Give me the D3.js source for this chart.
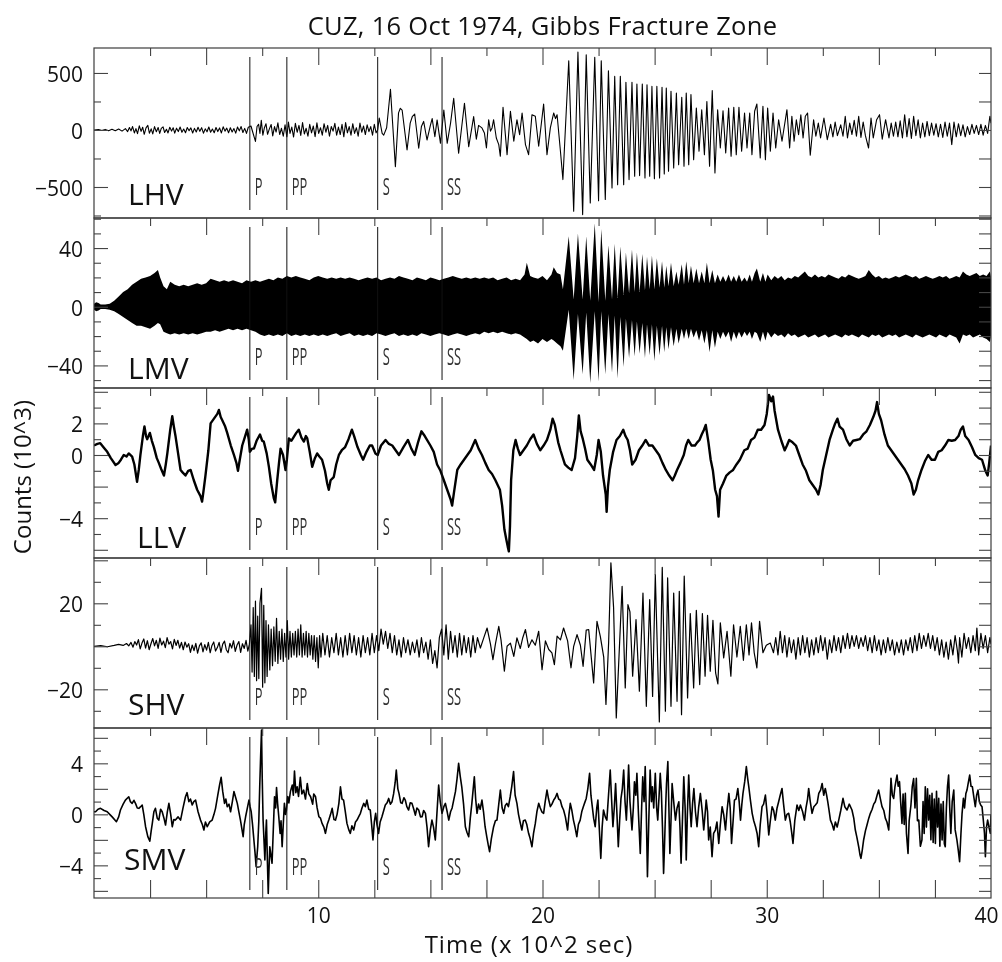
<!DOCTYPE html>
<html lang="en">
<head>
<meta charset="utf-8">
<title>CUZ, 16 Oct 1974, Gibbs Fracture Zone</title>
<script src="https://d3js.org/d3.v7.min.js"></script>
<style>
  body { margin: 0; background: #fff; }
  svg { will-change: transform; }
  text { font-family: "Open Sans", "DejaVu Sans", sans-serif; fill: #111; }
</style>
</head>
<body>
<script>

// ---- data (time in 10^2 s, amplitude in axis units) ----

var chartTitle = "CUZ, 16 Oct 1974, Gibbs Fracture Zone";
var stationNames = ["LHV", "LMV", "LLV", "SHV", "SMV"];
var phaseNames = ["P", "PP", "S", "SS"];
var phaseTimes = [6.95, 8.6, 12.65, 15.52];
var timeDomain = [0, 40];
var timeLabels = [10, 20, 30, 40];

var yDomains = [[-772, 719], [-55.4, 60.5], [-6.52, 4.24], [-38, 41.07], [-6.56, 6.77]];
var yLabels = [[-500, 0, 500], [-40, 0, 40], [-4, 0, 2], [-20, 20], [-4, 0, 4]];
var yMinorStep = [250, 10, 1, 10, 1];
var yMajorStep = [500, 40, 2, 20, 2];

// LHV [t, counts]
var lhv = [[0,0],[0.2,4],[0.35,-4],[0.5,5],[0.65,-6],[0.8,6],[0.95,-7],[1.1,8],[1.25,-10],[1.4,12],
[1.5,-14],[1.58,22],[1.65,-8],[1.72,30],[1.8,-26],[1.87,12],[1.94,-32],[2.02,36],[2.1,-12],[2.17,24],[2.24,-38],[2.32,18],[2.4,40],[2.47,-28],[2.55,10],[2.62,-34],[2.7,30],[2.78,-16],[2.86,22],[2.93,-30],[3.0,14],[3.08,28],[3.15,-22],[3.23,6],[3.3,-26],[3.38,24],[3.46,-10],[3.53,20],[3.6,-28],[3.68,16],[3.76,-14],[3.84,26],[3.92,-20],[4.0,8],[4.08,-24],[4.16,22],[4.24,-6],[4.32,18],[4.4,-26],[4.48,14],[4.56,-18],[4.64,24],[4.72,-12],[4.8,20],[4.88,-28],[4.96,10],[5.04,-16],[5.12,26],[5.2,-20],[5.28,8],[5.36,-24],[5.44,22],[5.52,-14],[5.6,18],[5.68,-26],[5.76,28],[5.84,-10],[5.92,16],[6.0,-24],[6.08,20],[6.16,-18],[6.24,12],[6.32,-28],[6.4,26],[6.48,-8],[6.56,30],[6.64,-22],[6.72,14],[6.8,-30],[6.88,24],
[7.0,35],[7.08,-20],[7.14,-60],[7.2,-100],[7.27,30],[7.34,50],[7.4,-30],[7.46,85],[7.53,-45],[7.6,20],[7.67,55],[7.74,-38],[7.82,10],[7.9,48],[7.97,-52],[8.05,30],[8.12,-18],[8.2,62],[8.28,-40],[8.36,15],[8.44,-55],[8.52,45],[8.6,-60],[8.67,70],[8.74,-30],[8.82,25],[8.9,-62],[8.98,58],[9.06,-20],[9.14,40],[9.22,-48],[9.3,65],[9.38,-35],[9.46,15],[9.54,-55],[9.62,50],[9.7,-25],[9.78,35],[9.86,-58],[9.94,62],[10.02,-30],[10.1,20],[10.18,-45],[10.26,55],[10.34,-20],[10.42,40],[10.5,-55],[10.58,30],[10.66,-10],[10.74,58],[10.82,-45],[10.9,25],[10.98,-40],[11.06,50],[11.14,-60],[11.22,65],[11.3,-25],[11.38,30],[11.46,-45],[11.54,55],[11.62,-30],[11.7,20],[11.78,-55],[11.86,60],[11.94,-20],[12.02,35],[12.1,-40],[12.18,45],[12.26,-15],[12.34,30],[12.42,-45],[12.5,50],[12.58,-25],
[12.65,0],[12.72,105],[12.85,-30],[12.92,-45],[13.05,20],[13.22,357],[13.44,-322],[13.58,150],[13.66,190],[13.74,175],[13.96,-175],[14.1,60],[14.2,120],[14.3,140],[14.48,-160],[14.6,30],[14.7,75],[14.85,-88],[15.0,40],[15.08,100],[15.2,-58],[15.3,88],[15.45,-117],[15.6,175],[15.75,-117],[15.9,60],[16.04,278],[16.26,-204],[16.52,234],[16.71,-146],[16.93,117],[17.05,-80],[17.15,40],
[17.3,18],[17.41,-26],[17.5,-158],[17.6,90],[17.68,-10],[17.75,18],[17.82,90],[17.94,-70],[18.05,-128],[18.12,-231],[18.24,199],[18.42,-216],[18.57,164],[18.72,-99],[18.86,90],[18.98,-41],[19.09,149],[19.24,-128],[19.38,-216],[19.53,134],[19.68,120],[19.83,-143],[20.05,228],[20.2,-216],[20.35,18],[20.5,149],[20.58,100],[20.65,134],[20.8,-187],[20.91,-435],
[21.17,607],[21.39,-712],[21.58,683],[21.79,-742],[21.95,660],[22.13,-640],[22.33,637],[22.5,-620],[22.62,607],[22.8,-610],[22.94,520],[23.1,-508],[23.22,470],[23.35,-480],[23.47,470],[23.62,-480],[23.72,418],[23.86,-435],[23.99,418],[24.11,-406],[24.21,403],[24.33,-400],[24.45,403],[24.57,-420],[24.66,397],[24.78,-406],[24.88,382],[24.99,-427],[25.1,382],[25.22,-420],[25.33,374],[25.43,-385],[25.52,368],[25.62,-362],[25.73,339],[25.85,-333],[25.97,324],[26.07,-304],[26.21,286],[26.31,-318],[26.41,324],[26.52,-304],[26.62,310],[26.74,-260],[26.86,193],[26.98,-187],[27.1,178],[27.22,-216],[27.33,250],[27.45,-318],[27.57,345],[27.69,-377],[27.81,178],[27.93,-158],[28.05,169],[28.17,-201],[28.3,193],[28.41,-230],[28.53,199],[28.64,-216],[28.76,199],[28.88,-187],[29.01,149],[29.12,-158],[29.24,149],[29.34,-216],[29.46,164],[29.56,228],[29.71,-245],[29.83,207],[29.94,-260],[30.04,193],[30.16,-187],[30.28,149],[30.4,-158],[30.53,90],[30.68,-99],[30.9,178],[31.02,-158],
[31.12,120],[31.22,-99],[31.32,90],[31.42,-41],[31.52,134],[31.62,-70],[31.72,120],[31.82,149],[31.94,-222],[32.09,90],[32.19,-55],[32.3,60],[32.4,-70],[32.55,105],[32.7,-85],[32.85,50],[32.95,-60],[33.05,70],[33.15,-50],[33.3,45],[33.4,-55],[33.5,120],[33.6,-70],[33.7,60],[33.8,-40],[33.9,85],[34.0,-55],[34.1,120],[34.2,-65],[34.3,70],[34.4,-50],[34.54,-158],[34.65,105],[34.75,-70],[34.9,90],[35.03,134],[35.15,-80],[35.3,90],[35.45,-70],[35.55,60],[35.65,-55],[35.75,70],[35.85,-60],[35.95,80],[36.05,-70],[36.15,134],[36.25,-60],[36.35,100],[36.45,-75],[36.55,120],[36.65,-50],[36.75,90],[36.85,-70],[36.95,60],[37.05,-60],[37.15,75],[37.25,-50],[37.35,60],[37.45,-45],[37.55,55],[37.65,-60],[37.75,50],[37.85,-65],[37.95,70],[38.05,-55],[38.15,60],[38.25,-128],[38.35,70],[38.45,-60],[38.55,55],[38.65,-50],[38.75,45],[38.85,-60],[38.95,30],[39.05,-40],[39.15,50],[39.25,-30],[39.35,40],[39.45,-40],[39.55,50],[39.65,-45],[39.75,40],[39.85,-30],[39.95,120],[40,60]];

// LMV [t, low edge, high edge] of the dense trace band
var lmv = [[0,-2,2],[0.1,-3,3],[0.2,-2.5,2.5],[0.3,-1.5,1.5],[0.5,-1.5,1.5],[0.7,-2,2],
[0.9,-3,4],[1.1,-5,7],[1.3,-7,10],[1.5,-9,12],[1.7,-11,15],[1.9,-13,17],[2.1,-13,19],[2.3,-14,20],[2.5,-15,21],[2.7,-13,23],[2.85,-11,25],[2.95,-12,20],[3.1,-17,14],[3.25,-18,12],[3.4,-19,17],[3.6,-18,15],[3.8,-19,14],[4.0,-18,15],[4.2,-19,14],[4.4,-18,15],[4.6,-19,16],[4.8,-18,15],[5.0,-17,16],[5.2,-17,19],[5.4,-16,18],[5.6,-17,17],[5.8,-16,18],[6.0,-15,17],[6.2,-16,18],[6.4,-15,17],[6.6,-16,16],[6.8,-15,18],[7.0,-16,17],[7.2,-17,18],[7.4,-19,17],[7.6,-20,18],[7.8,-19,19],[8.0,-20,18],[8.2,-19,20],[8.4,-20,19],[8.6,-18,21],[8.8,-20,20],[9.0,-19,21],[9.2,-20,20],[9.4,-19,19],[9.6,-20,18],[9.8,-19,20],[10.0,-20,21],[10.2,-19,20],[10.4,-20,19],[10.6,-19,20],[10.8,-18,19],[11.0,-20,20],[11.2,-19,19],[11.4,-18,20],[11.6,-20,19],[11.8,-19,18],[12.0,-20,19],[12.2,-19,20],[12.4,-20,19],[12.6,-18,20],[12.8,-19,18],[13.0,-20,19],[13.2,-19,20],[13.4,-18,19],[13.6,-20,21],[13.8,-19,20],[14.0,-20,19],[14.2,-19,18],[14.4,-20,20],[14.6,-18,19],[14.8,-19,18],[15.0,-20,20],[15.2,-19,19],[15.4,-18,18],[15.6,-19,19],[15.8,-20,20],[16.0,-19,21],[16.2,-18,20],[16.4,-19,19],[16.6,-20,20],[16.8,-19,19],[17.0,-18,20],[17.2,-19,19],[17.4,-17,20],[17.6,-18,19],[17.8,-17,20],[18.0,-18,18],[18.2,-17,19],[18.4,-18,20],[18.6,-19,18],[18.8,-18,19],[19.0,-19,18],[19.2,-21,22],[19.3,-22,30],[19.45,-24,21],[19.6,-23,20],[19.8,-25,19],[20.0,-22,21],[20.2,-24,18],[20.4,-22,22],[20.5,-23,27],[20.65,-25,23],[20.8,-27,22],
[20.91,-30,12],[21.17,-2,48],[21.39,-50,5],[21.58,-5,50],[21.79,-46,5],[21.95,-4,48],[22.13,-52,4],[22.33,-3,57],[22.5,-51,3],[22.62,-3,53],[22.8,-46,4],[22.94,-5,42],[23.1,-45,5],[23.22,-6,43],[23.35,-49,6],[23.47,-7,41],[23.62,-41,8],[23.72,-8,37],[23.86,-35,9],[23.99,-9,39],[24.11,-34,10],[24.21,-10,37],[24.33,-32,10],[24.45,-11,36],[24.57,-35,11],[24.66,-12,34],[24.78,-33,12],[24.88,-12,35],[24.99,-37,12],[25.1,-13,33],[25.22,-33,13],[25.33,-13,31],[25.43,-31,13],[25.52,-14,28],[25.62,-29,14],[25.73,-14,30],[25.85,-27,14],[25.97,-15,24],[26.07,-25,15],[26.21,-15,29],[26.31,-22,15],[26.41,-15,31],[26.52,-22,16],[26.62,-15,28],[26.74,-21,16],[26.86,-16,26],[26.98,-23,16],[27.1,-16,24],[27.22,-25,16],[27.33,-16,30],[27.45,-31,16],[27.57,-16,25],[27.69,-28,16],
[27.81,-17,22],[27.93,-22,17],[28.05,-17,21],[28.17,-21,17],[28.3,-17,22],[28.41,-24,17],[28.53,-17,21],[28.64,-22,17],[28.76,-17,22],[28.88,-21,17],[29.01,-17,20],[29.12,-20,17],[29.24,-17,22],[29.34,-22,17],[29.46,-17,23],[29.56,-18,26],[29.71,-24,17],[29.83,-17,23],[29.94,-23,17],[30.04,-17,22],[30.2,-21,18],[30.35,-18,21],[30.5,-20,19],[30.65,-19,21],[30.8,-21,18],[30.95,-18,20],[31.1,-20,19],[31.25,-19,21],[31.4,-21,20],[31.55,-20,22],[31.7,-19,24],[31.85,-21,21],[32.0,-20,20],[32.15,-19,22],[32.3,-21,20],[32.45,-20,21],[32.6,-19,20],[32.75,-21,22],[32.9,-20,21],[33.05,-19,20],[33.2,-20,19],[33.35,-21,21],[33.5,-19,20],[33.65,-20,22],[33.8,-19,21],[33.95,-20,20],[34.1,-21,19],[34.25,-19,20],[34.4,-20,21],[34.55,-21,25],[34.7,-19,22],[34.85,-20,20],[35.0,-19,21],[35.15,-21,19],[35.3,-20,20],[35.45,-19,19],[35.6,-20,20],[35.75,-19,21],[35.9,-21,20],[36.05,-20,21],[36.2,-19,22],[36.35,-20,21],[36.5,-21,20],[36.65,-19,21],[36.8,-20,19],[36.95,-21,20],[37.1,-20,21],[37.25,-19,20],[37.4,-20,19],[37.55,-21,20],[37.7,-19,21],[37.85,-20,20],[38.0,-21,21],[38.15,-19,19],[38.3,-20,20],[38.45,-21,21],[38.6,-25,20],[38.75,-19,24],[38.9,-20,22],[39.05,-19,21],[39.2,-21,22],[39.35,-20,23],[39.5,-19,21],[39.65,-21,22],[39.8,-22,21],[39.95,-24,24],[40,-20,20]];

// LLV [t, counts x10^3]
var llv = [[0,0.6],[0.15,0.7],[0.28,0.75],[0.45,0.45],[0.59,0.2],[0.75,-0.2],[0.96,-0.63],[1.1,-0.5],[1.2,-0.3],[1.33,0],[1.45,-0.1],[1.55,0.1],[1.7,-0.1],[1.8,-0.6],[1.92,-1.7],[2.0,-0.9],[2.07,0],[2.18,1.2],[2.25,1.8],[2.32,1.2],[2.37,1.0],[2.49,1.4],[2.58,0.9],[2.67,0.5],[2.8,-0.2],[2.89,-0.5],[3.0,-0.9],[3.12,-1.3],[3.2,-0.6],[3.27,0.1],[3.4,1.6],[3.49,2.45],[3.56,1.8],[3.64,1.15],[3.75,0.1],[3.86,-0.95],[3.95,-1.1],[4.08,-1.3],[4.2,-1.0],[4.31,-0.95],[4.45,-1.6],[4.6,-2.2],[4.75,-2.6],[4.82,-2.95],[4.9,-2.1],[4.97,-1.3],[5.1,0.3],[5.2,2.0],[5.35,2.3],[5.5,2.6],[5.57,2.85],[5.65,2.4],[5.72,2.2],[5.85,1.8],[5.94,1.4],[6.1,0.6],[6.24,0],[6.35,-0.5],[6.42,-1.0],[6.5,-0.3],[6.61,0.6],[6.72,1.1],[6.83,1.6],[6.9,1.0],[6.95,0.2],[7.05,0.4],[7.13,0.4],[7.25,0.9],[7.4,1.3],[7.5,0.9],[7.57,0.85],[7.7,0.1],[7.8,-0.75],[7.9,-1.8],[8.02,-2.75],[8.08,-3.0],[8.17,-1.6],[8.25,-0.5],[8.32,0.4],[8.43,0],[8.54,-0.95],[8.6,-0.3],[8.69,1.05],[8.8,0.9],[8.91,1.15],[9.02,1.4],[9.13,1.6],[9.25,1.1],[9.36,0.85],[9.45,1.2],[9.51,1.05],[9.62,0.2],[9.73,-0.75],[9.85,-0.2],[9.95,0.1],[10.05,-0.1],[10.17,-0.3],[10.3,-1.0],[10.4,-1.8],[10.47,-2.2],[10.55,-1.6],[10.69,-1.4],[10.8,-0.6],[10.92,0],[11.05,0.3],[11.2,0.5],[11.35,1.0],[11.5,1.6],[11.6,1.2],[11.75,0.5],[11.9,0],[12.0,-0.3],[12.15,0.2],[12.3,0.6],[12.4,0.6],[12.55,0.1],[12.65,0],[12.8,0.6],[13.0,0.95],[13.15,0.7],[13.3,0.6],[13.45,0.3],[13.6,0],[13.8,0.5],[14.0,0.95],[14.15,0.4],[14.3,0],[14.45,0.8],[14.6,1.5],[14.75,1.2],[15.0,0.6],[15.15,0.2],[15.3,-0.6],[15.45,-1.0],[15.6,-1.6],[15.75,-2.2],[15.9,-2.8],[15.97,-3.2],[16.05,-2.4],[16.2,-0.95],[16.35,-0.6],[16.5,-0.3],[16.65,0],[16.8,0.3],[17.0,0.95],[17.15,0.4],[17.3,0],[17.45,-0.5],[17.6,-0.95],[17.75,-1.2],[17.9,-1.6],[18.1,-2.2],[18.2,-3.2],[18.3,-4.7],[18.38,-5.3],[18.45,-5.8],[18.5,-6.1],[18.55,-4.5],[18.6,-1.6],[18.7,0.3],[18.8,0.95],[18.9,0.4],[19.0,0],[19.15,0.3],[19.3,0.6],[19.45,1.0],[19.6,1.3],[19.75,0.7],[19.9,0.3],[20.05,0.6],[20.2,0.95],[20.35,1.6],[20.45,2.3],[20.55,1.9],[20.7,0.8],[20.8,0.3],[21.0,-0.6],[21.15,-0.8],[21.3,-0.95],[21.45,-0.2],[21.55,1.2],[21.62,2.5],[21.7,1.5],[21.8,1.0],[21.9,0.4],[22.0,-0.3],[22.15,-0.6],[22.3,-0.95],[22.42,0],[22.5,0.95],[22.6,0.2],[22.7,-1.3],[22.82,-2.5],[22.86,-3.6],[22.92,-2.0],[23.0,-0.95],[23.15,0.2],[23.3,0.95],[23.45,1.2],[23.6,1.6],[23.7,1.2],[23.8,0.95],[23.9,0.3],[24.0,-0.6],[24.15,-0.3],[24.3,0.3],[24.45,0.6],[24.6,0.95],[24.75,0.6],[24.9,0.6],[25.05,0.3],[25.2,0],[25.35,-0.5],[25.5,-0.95],[25.65,-1.3],[25.8,-1.6],[25.9,-1.3],[26.0,-0.95],[26.15,-0.5],[26.3,0],[26.4,0.6],[26.5,0.95],[26.65,0.6],[26.8,0.6],[26.9,0.8],[27.0,0.95],[27.1,1.3],[27.2,1.6],[27.28,1.9],[27.4,0.8],[27.5,-0.3],[27.6,-1.0],[27.7,-2.2],[27.78,-2.6],[27.85,-3.9],[27.92,-2.2],[28.05,-1.8],[28.2,-1.3],[28.35,-1.1],[28.5,-0.95],[28.65,-0.6],[28.8,-0.3],[29.0,0.3],[29.15,0.4],[29.3,0.95],[29.45,1.1],[29.6,1.6],[29.75,1.6],[29.9,1.9],[30.0,2.6],[30.1,3.8],[30.2,3.4],[30.28,3.7],[30.35,2.8],[30.5,1.6],[30.65,0.9],[30.8,0.3],[30.9,0.6],[31.0,0.95],[31.15,0.8],[31.3,0.6],[31.45,0],[31.6,-0.6],[31.75,-1.0],[31.9,-1.6],[32.05,-1.9],[32.2,-2.2],[32.3,-2.5],[32.4,-1.9],[32.5,-0.95],[32.65,0],[32.8,0.95],[32.95,1.6],[33.05,2.0],[33.15,2.3],[33.25,1.8],[33.4,1.6],[33.55,1.0],[33.7,0.6],[33.85,0.9],[34.0,0.95],[34.15,1.0],[34.3,1.3],[34.45,1.5],[34.6,1.9],[34.75,2.4],[34.85,2.8],[34.92,3.35],[35.0,2.6],[35.1,2.2],[35.25,1.3],[35.4,0.6],[35.55,0.3],[35.7,0],[35.85,-0.3],[36.0,-0.6],[36.15,-0.9],[36.3,-1.3],[36.45,-1.8],[36.55,-2.5],[36.65,-2.2],[36.75,-1.6],[36.9,-0.95],[37.05,-0.4],[37.2,0],[37.35,-0.3],[37.5,-0.3],[37.65,0.2],[37.8,0.3],[37.95,0.6],[38.1,0.95],[38.25,0.9],[38.4,0.95],[38.55,1.2],[38.65,1.6],[38.75,1.8],[38.85,1.2],[39.0,0.95],[39.15,0.5],[39.3,0],[39.45,-0.2],[39.6,-0.3],[39.75,-1.0],[39.85,-1.3],[39.92,-0.5],[40,0.6]];

// SHV [t, counts]
var shv = [[0,0],[0.3,0.3],[0.6,-0.2],[0.9,0.4],[1.1,0.9],[1.3,0.4],[1.45,1.3],[1.55,0.2],[1.65,1.8],[1.74,-0.4],[1.82,2.2],[1.9,0.6],[1.98,3.1],[2.06,-1.2],[2.14,1.5],[2.22,3.4],[2.3,-0.8],[2.38,2.6],[2.46,-1.6],[2.54,1.2],[2.62,3.6],[2.7,0.2],[2.78,2.8],[2.86,-1.0],[2.94,3.8],[3.02,0.6],[3.1,2.4],[3.18,-0.6],[3.26,4.0],[3.34,1.0],[3.42,2.2],[3.5,-1.2],[3.58,3.2],[3.66,0.4],[3.74,2.8],[3.82,-0.8],[3.9,1.8],[3.98,-1.6],[4.06,2.0],[4.14,-0.4],[4.22,1.2],[4.3,-2.8],[4.38,0.6],[4.46,-2.0],[4.54,1.4],[4.62,-3.2],[4.7,0.2],[4.78,1.6],[4.86,-2.6],[4.94,0.8],[5.02,-1.8],[5.1,1.8],[5.18,-3.0],[5.26,0.4],[5.34,2.0],[5.42,-2.2],[5.5,-0.6],[5.58,1.8],[5.66,-2.8],[5.74,1.0],[5.82,2.4],[5.9,-1.6],[5.98,-3.0],[6.06,1.4],[6.14,-0.8],[6.22,2.6],[6.3,-2.4],[6.38,0.6],[6.46,2.2],[6.54,-2.8],[6.62,1.2],[6.7,-1.0],[6.78,2.8],[6.86,-2.2],[6.93,1.0],
[7.0,10],[7.05,-12],[7.1,18],[7.15,-14],[7.2,21],[7.25,-16],[7.3,14],[7.35,-15],[7.4,20],[7.47,27],[7.52,-19],[7.57,19],[7.62,-17],[7.67,12],[7.72,-14],[7.78,10],[7.84,-11],[7.9,8],[7.96,-9],[8.02,9],[8.08,-7],[8.14,13],[8.2,-8],[8.26,7],[8.32,-6],[8.38,8],[8.44,-7],[8.5,6],[8.56,-5],[8.62,12],[8.68,-6],[8.74,7],[8.8,-5],[8.86,6],[8.92,-4],[8.98,7],[9.04,-5],[9.1,8],[9.16,-4],[9.22,10],[9.28,-5],[9.34,6],[9.4,-4],[9.46,7],[9.52,-5],[9.58,6],[9.64,-4],[9.7,5],[9.76,-6],[9.82,5],[9.88,-7],[9.94,4],[10.0,-10],[10.06,5],[10.12,-5],[10.2,6],[10.3,-4],[10.4,5],[10.5,-5],[10.6,4],[10.7,-3],[10.8,6],[10.9,-4],[11.0,4],
[11.1,-5],[11.2,5],[11.3,-4],[11.4,6],[11.5,-3],[11.6,5],[11.7,-4],[11.8,4],[11.9,-5],[12.0,5],[12.1,-3],[12.2,4],[12.3,-4],[12.4,6],[12.5,-3],[12.6,5],[12.7,-2],[12.8,8],[12.9,1],[13.0,7],[13.1,-1],[13.2,6],[13.3,-3],[13.4,5],[13.5,-4],[13.6,3],[13.7,-5],[13.8,4],[13.9,-3],[14.0,3],[14.1,-4],[14.2,2],[14.3,-3],[14.4,3],[14.5,-5],[14.6,4],[14.7,-3],[14.8,2],[14.9,-6],[15.0,3],[15.1,-8],[15.2,-2],[15.3,-10],[15.4,4],[15.5,8],[15.6,-4],[15.7,10],[15.8,-6],[15.9,7],[16.0,-3],[16.1,5],[16.2,-5],[16.3,6],[16.4,-4],[16.5,5],[16.6,-3],[16.7,4],[16.8,-5],[16.9,5],[17.0,-3],[17.1,4],
[17.23,-0.8],[17.38,3.9],[17.53,8.5],[17.68,1],[17.79,-6.2],[17.9,1],[18.05,9.3],[18.15,3],[18.3,-11.6],[18.42,0],[18.57,1.5],[18.72,-4.7],[18.86,3.9],[19.01,-1],[19.12,4],[19.24,7.8],[19.38,-0.5],[19.53,3],[19.68,0.5],[19.83,7],[19.98,-10.9],[20.13,2.5],[20.28,-1.5],[20.42,-3.1],[20.53,-8.5],[20.65,4.7],[20.8,3],[20.94,8.5],[21.12,2.5],[21.27,-10],[21.39,0],[21.54,5.4],[21.69,0.5],[21.81,-9.3],[21.95,7.5],[22.06,7.8],[22.28,-17],[22.43,11.6],[22.58,4.5],[22.73,-5],[22.83,-27],[22.95,2],[23.05,38.8],[23.17,18],[23.29,-33.3],[23.44,2],[23.55,27.9],[23.69,-19.4],[23.81,19.4],[23.9,16],[24.02,-13.9],[24.17,12.4],[24.32,-20.9],[24.48,24.8],[24.63,-27.9],[24.78,21.7],[24.91,-23.3],[25.03,33.3],[25.21,-35.2],[25.34,36.7],[25.48,-30.2],[25.58,31.8],[25.73,-27.9],[25.85,24.8],[26.0,-25.6],[26.1,25.6],[26.2,-31.8],[26.32,32.6],[26.47,-24],[26.59,15.2],[26.74,-19.4],[26.86,16.7],[27.01,-17.8],[27.13,15.2],[27.25,-13.9],[27.36,14.4],[27.48,-11.6],[27.6,12.1],[27.72,-12.4],[27.82,-17.5],[27.93,10.9],[28.08,-5.4],[28.23,7],[28.4,-13.9],[28.52,10],[28.67,-5],[28.82,9.3],[28.96,-6.5],[29.09,10],[29.21,-4],[29.32,10.9],[29.44,-3],[29.56,-10],[29.68,11.6],[29.83,-3],[29.98,0.5],[30.16,1.5],
[30.3,-3],[30.4,4],[30.5,-4],[30.6,7],[30.7,-3],[30.8,5],[30.9,-5],[31.0,4],[31.1,-3],[31.2,3],[31.3,-6],[31.4,4],[31.5,-4],[31.6,5],[31.7,-3],[31.8,4],[31.9,-5],[32.0,3],[32.1,-4],[32.2,4],[32.3,-3],[32.4,5],[32.5,-2],[32.6,4],[32.7,-6],[32.8,3],[32.9,-3],[33.0,5],[33.1,-2],[33.2,4],[33.3,-3],[33.4,5],[33.5,-1],[33.6,6],[33.7,-1],[33.8,5],[33.9,0],[34.0,5],[34.1,-1],[34.2,4],[34.3,0],[34.4,5],[34.5,-2],[34.6,4],[34.7,-3],[34.8,5],[34.9,-2],[35.0,3],[35.1,-4],[35.2,3],[35.3,-3],[35.4,4],[35.5,-2],[35.6,3],[35.7,-4],[35.8,2],[35.9,-3],[36.0,3],[36.1,-4],[36.2,3],[36.3,-2],[36.4,4],[36.5,-3],[36.6,5],[36.7,-2],[36.8,6],[36.9,-1],[37.0,5],[37.1,0],[37.2,6],[37.3,-1],[37.4,5],[37.5,-2],[37.6,4],[37.7,-4],[37.8,3],[37.9,-5],[38.0,2],[38.1,-6],[38.2,3],[38.3,-4],[38.4,5],[38.5,-2],[38.55,-7.8],[38.6,4],[38.7,-5],[38.8,6],[38.9,-1],[39.0,4],[39.1,-3],[39.2,5],[39.3,-2],[39.37,8.5],[39.45,-4],[39.55,6],[39.65,-1],[39.75,5],[39.85,-3],[39.95,4],[40,1]];

// SMV [t, counts x10^3]
var smv = [[0,0.2],[0.07,0.2],[0.18,0.4],[0.29,0.47],[0.45,0.3],[0.59,0.2],[0.7,0],[0.81,-0.2],[1.0,-0.58],[1.1,-0.2],[1.18,0.34],[1.3,0.8],[1.4,1.12],[1.55,1.38],[1.62,1.0],[1.7,0.86],[1.78,1.1],[1.85,0.86],[1.93,0.5],[2.0,0.47],[2.08,0.6],[2.15,0.73],[2.22,0],[2.3,-0.97],[2.4,-1.75],[2.49,-2.1],[2.55,-1.3],[2.6,-0.71],[2.67,0.2],[2.74,0.47],[2.82,-0.3],[2.89,-0.45],[2.97,0.4],[3.04,0.2],[3.12,-0.3],[3.19,-0.84],[3.27,0.2],[3.34,0.86],[3.42,0],[3.49,-0.97],[3.56,-0.4],[3.63,-0.45],[3.75,-0.2],[3.86,-0.45],[3.97,0.5],[4.08,1.38],[4.15,1.7],[4.23,0.99],[4.3,1.2],[4.38,0.73],[4.45,1.0],[4.53,1.12],[4.64,0.2],[4.75,-0.45],[4.83,-0.8],[4.9,-1.23],[4.97,-0.6],[5.05,-0.97],[5.16,-0.6],[5.27,-0.45],[5.35,0],[5.42,0.47],[5.52,1.51],[5.6,2.3],[5.67,2.9],[5.74,1.8],[5.82,0.86],[5.88,1.2],[5.94,0.6],[6.02,0.8],[6.09,0.2],[6.17,1.0],[6.24,1.79],[6.32,1.3],[6.39,0.86],[6.46,0.2],[6.53,-0.45],[6.6,-1.2],[6.65,-1.75],[6.7,-0.8],[6.76,-0.19],[6.84,0.5],[6.91,1.12],[6.96,0.6],[7.01,0.2],[7.07,-0.8],[7.13,-2.01],[7.18,-3.0],[7.23,-4.1],[7.27,-3.2],[7.3,-2.54],[7.35,-0.5],[7.39,2.16],[7.43,4.5],[7.47,6.6],[7.5,3.0],[7.54,-0.45],[7.58,-2.0],[7.62,-3.58],[7.66,-1.5],[7.69,-0.45],[7.73,-3.5],[7.77,-6.2],[7.8,-4.5],[7.84,-2.54],[7.89,-3.2],[7.94,-3.84],[8.0,-1.0],[8.05,1.38],[8.1,0.5],[8.14,2.1],[8.19,0.8],[8.24,-0.19],[8.3,-1.5],[8.34,-0.5],[8.39,-2.54],[8.44,-0.8],[8.49,0.86],[8.54,0],[8.58,0.34],[8.64,1.4],[8.69,0.9],[8.76,1.8],[8.84,2.29],[8.89,1.5],[8.94,3.4],[9.0,1.7],[9.06,2.16],[9.12,1.4],[9.2,2.9],[9.27,1.6],[9.35,1.9],[9.43,1.2],[9.51,2.42],[9.58,1.6],[9.66,1.38],[9.75,0.8],[9.8,1.6],[9.88,1.38],[9.95,0.5],[10.03,-0.19],[10.1,-0.3],[10.17,-0.71],[10.25,-1.0],[10.32,-1.49],[10.4,-0.8],[10.47,-0.45],[10.55,0],[10.62,0.47],[10.7,-0.4],[10.77,-0.45],[10.84,0],[10.92,0.86],[10.99,2.16],[11.06,1.2],[11.13,1.12],[11.2,0.3],[11.28,-0.71],[11.36,-1.2],[11.43,-1.49],[11.5,-0.9],[11.58,-1.23],[11.66,-0.6],[11.73,-0.45],[11.8,-0.2],[11.88,0.08],[11.95,0.5],[12.03,0.86],[12.1,0.6],[12.17,1.12],[12.25,0.4],[12.32,0.34],[12.38,-0.8],[12.44,-2.01],[12.5,-0.6],[12.56,0.08],[12.62,-0.8],[12.69,-1.49],[12.76,-0.6],[12.84,-0.19],[12.92,0.3],[12.99,0.73],[13.07,0.9],[13.14,1.25],[13.22,0.8],[13.29,0.99],[13.36,1.6],[13.43,2.5],[13.48,3.48],[13.55,2.0],[13.6,1.64],[13.68,0.9],[13.74,0.86],[13.82,1.3],[13.88,1.12],[13.95,0.6],[14.03,0.34],[14.1,0.9],[14.18,0.86],[14.26,0.4],[14.33,-0.06],[14.4,0.5],[14.48,0.34],[14.56,-0.2],[14.63,-0.19],[14.7,0.3],[14.78,0.08],[14.85,-1.0],[14.92,-2.54],[15.0,-1.2],[15.07,-0.45],[15.14,-1.0],[15.22,-2.01],[15.3,0.3],[15.37,2.29],[15.44,1.0],[15.52,0.08],[15.6,0.6],[15.67,0.86],[15.75,0.2],[15.82,-0.45],[15.9,0.2],[15.97,0.5],[16.04,1.12],[16.12,1.8],[16.19,2.8],[16.26,4.0],[16.33,3.0],[16.4,2.16],[16.48,0.8],[16.56,-0.97],[16.63,-1.4],[16.71,-1.75],[16.78,-0.3],[16.85,0.86],[16.91,2.0],[16.96,2.95],[17.02,1.2],[17.08,0.08],[17.15,0.8],[17.22,0.4],[17.3,1.12],[17.37,0.2],[17.44,-0.97],[17.52,-1.8],[17.58,-2.4],[17.64,-2.93],[17.72,-1.9],[17.82,-0.97],[17.9,-0.5],[17.97,-0.45],[18.05,0.8],[18.12,1.9],[18.2,0.5],[18.27,0.08],[18.34,0.7],[18.41,0.86],[18.48,0.6],[18.56,1.38],[18.63,2.2],[18.71,3.35],[18.78,1.5],[18.86,0.86],[18.93,0],[19.0,-0.6],[19.08,-1.23],[19.15,-0.5],[19.23,-0.45],[19.3,-0.8],[19.38,-1.49],[19.45,-1.9],[19.53,-2.54],[19.6,-1.5],[19.68,-0.71],[19.75,0.2],[19.83,0.86],[19.9,0.5],[19.97,0.2],[20.05,0.08],[20.12,1.0],[20.2,1.9],[20.27,1.2],[20.35,0.6],[20.42,0.8],[20.5,1.12],[20.57,1.3],[20.65,1.64],[20.72,1.2],[20.79,1.12],[20.87,0.6],[20.94,0.34],[21.02,-0.2],[21.12,-1.23],[21.18,0],[21.24,0.86],[21.31,0.3],[21.38,-0.45],[21.45,-1.0],[21.53,-1.75],[21.6,-0.8],[21.68,-0.45],[21.75,0.2],[21.82,0.6],[21.88,0.9],[21.95,1.25],[22.02,2.0],[22.1,3.21],[22.16,1.5],[22.22,0.6],[22.28,-0.3],[22.35,-0.97],[22.42,0.5],[22.47,1.12],[22.53,-1.0],[22.6,-3.45],[22.66,-1.0],[22.72,0.34],[22.8,-0.2],[22.87,-0.45],[22.94,1.4],[23.02,3.48],[23.08,1.2],[23.14,-0.97],[23.2,0.5],[23.26,2.42],[23.32,0],[23.38,-2.54],[23.44,-0.5],[23.5,1.25],[23.56,2.0],[23.62,3.48],[23.68,1.0],[23.74,-0.45],[23.79,1.5],[23.84,3.87],[23.9,1.0],[23.99,-1.23],[24.05,0.5],[24.1,2.56],[24.16,1.5],[24.21,3.21],[24.28,0],[24.36,-3.06],[24.42,0.5],[24.47,2.95],[24.53,1.0],[24.58,3.74],[24.63,0],[24.68,-4.89],[24.74,-0.5],[24.8,3.48],[24.86,1.0],[24.9,2.16],[24.96,0.5],[25.03,3.21],[25.09,0.5],[25.14,-0.45],[25.2,1.5],[25.25,3.21],[25.3,1.8],[25.35,-1.0],[25.4,-4.63],[25.44,-2.5],[25.49,0.5],[25.53,2.42],[25.59,4.13],[25.63,1.0],[25.68,-3.06],[25.73,-0.5],[25.78,2.42],[25.85,1.0],[25.93,-0.45],[26.0,0.5],[26.08,0.99],[26.13,-1.0],[26.18,-3.84],[26.24,-0.5],[26.3,2.95],[26.36,0.5],[26.41,-3.58],[26.46,0],[26.52,3.08],[26.58,0.5],[26.63,-0.97],[26.69,0.8],[26.75,2.03],[26.82,0.2],[26.89,-0.97],[26.96,0.5],[27.04,1.64],[27.12,0.3],[27.19,-1.23],[27.25,0],[27.3,1.12],[27.36,0.2],[27.41,-2.01],[27.48,-1.0],[27.56,-3.32],[27.63,-1.5],[27.71,-1.23],[27.78,-0.6],[27.86,-2.28],[27.93,-0.8],[28.01,0.6],[28.08,0],[28.16,-1.23],[28.23,0.3],[28.31,1.64],[28.37,0.5],[28.43,-2.28],[28.5,-0.5],[28.56,1.12],[28.63,1.2],[28.71,2.03],[28.77,1.0],[28.83,-0.45],[28.89,0.8],[28.94,1.64],[29.02,2.6],[29.09,3.74],[29.15,2.8],[29.2,2.16],[29.28,1.0],[29.35,0.08],[29.42,-0.5],[29.5,-0.97],[29.57,-1.5],[29.64,-2.54],[29.71,-0.8],[29.79,0.6],[29.86,0.8],[29.94,1.51],[30.02,0],[30.09,-1.62],[30.16,-0.5],[30.24,0.6],[30.31,0.3],[30.38,-0.45],[30.46,0.5],[30.53,0.99],[30.6,1.5],[30.68,2.03],[30.75,0.8],[30.83,-0.45],[30.9,0],[30.98,0.08],[31.05,-0.6],[31.11,-1.4],[31.17,-2.28],[31.25,-0.5],[31.35,0.73],[31.43,0.3],[31.5,0.73],[31.6,0.2],[31.68,-0.45],[31.75,0.5],[31.82,1.2],[31.87,2.03],[31.94,1.0],[32.02,0.08],[32.1,0.6],[32.17,0.73],[32.25,0.9],[32.32,1.64],[32.4,1.9],[32.47,2.42],[32.54,1.5],[32.61,2.03],[32.67,1.5],[32.72,0.99],[32.78,0.3],[32.84,-0.45],[32.92,-0.8],[32.99,-1.23],[33.06,-0.6],[33.14,-1.0],[33.21,-0.45],[33.3,0.3],[33.4,1.25],[33.48,0.6],[33.58,0.34],[33.68,0.8],[33.8,0.34],[33.88,-0.3],[33.95,-1.23],[34.02,-1.8],[34.1,-2.54],[34.16,-3.2],[34.2,-3.45],[34.26,-2.8],[34.32,-2.01],[34.4,-1.3],[34.47,-0.84],[34.55,-0.3],[34.62,0.08],[34.7,0.4],[34.77,0.8],[34.84,0.99],[34.92,1.5],[34.99,1.9],[35.07,1.2],[35.14,0.6],[35.22,0.3],[35.29,-0.32],[35.36,-0.6],[35.44,-1.23],[35.49,0.5],[35.54,2.82],[35.6,1.5],[35.66,1.25],[35.72,2.2],[35.78,2.8],[35.81,3.08],[35.86,2.2],[35.92,2.56],[35.97,1.0],[36.03,-0.71],
[36.08,1.6],[36.13,-0.8],[36.18,1.64],[36.23,-1.5],[36.3,-3.06],[36.35,-0.5],[36.43,0.73],[36.49,2.2],[36.55,2.8],[36.61,0.5],[36.67,2.82],[36.72,-0.5],[36.78,-0.45],[36.85,-2.5],[36.92,-2.01],[36.97,1.0],[37.02,-1.5],[37.07,2.16],[37.12,-1.0],[37.17,2.0],[37.22,-0.45],[37.27,1.5],[37.32,-2.0],[37.37,1.64],[37.42,-2.2],[37.47,1.2],[37.52,-2.28],[37.57,1.8],[37.62,-1.0],[37.67,1.25],[37.72,-2.5],[37.77,0.8],[37.82,-2.01],[37.87,1.0],[37.92,-2.3],[37.96,-2.54],[38.01,0.5],[38.06,2.2],[38.11,3.08],[38.16,0.5],[38.21,-1.5],[38.27,1.0],[38.34,1.9],[38.4,-1.2],[38.48,-2.01],[38.54,-2.8],[38.6,-3.71],[38.66,-1.5],[38.71,0.08],[38.77,1.25],[38.82,0.5],[38.88,1.64],[38.93,1.9],[38.99,2.5],[39.05,3.08],[39.11,2.2],[39.17,2.16],[39.23,1.4],[39.3,0.6],[39.36,1.5],[39.42,1.9],[39.48,1.0],[39.54,0.73],[39.6,0.6],[39.66,-0.5],[39.71,-1.5],[39.75,-3.32],[39.8,-1.0],[39.85,-0.45],[39.91,-1.0],[39.97,-1.49],[40,0]];

// ---- layout ----

var width = 1002, height = 962;
var left = 94, right = 991, top0 = 48, panelH = 170;
var labelPos = [[128, 157], [128, 161], [137, 160], [128, 157], [124, 142]];
var strokeW = [1.1, 0, 2.4, 1.2, 1.6];
var frameColor = "#3c3c3c";

var svg = d3.select("body")
  .append("svg")
    .attr("width", width)
    .attr("height", height);

var x = d3.scaleLinear().domain(timeDomain).range([left, right]);

var traces = [lhv, lmv, llv, shv, smv];

function stepValues(dom, step) {
  var a = Math.ceil(dom[0] / step - 1e-9), b = Math.floor(dom[1] / step + 1e-9);
  return d3.range(a, b + 1).map(k => +(k * step).toFixed(6));
}

var xTicks = d3.range(1, 16).map(k => k * 2.5);

traces.forEach(function (tr, i) {
  var y0 = top0 + i * panelH;
  var y = d3.scaleLinear().domain(yDomains[i]).range([y0 + panelH, y0]);
  var g = svg.append("g");

  g.append("clipPath").attr("id", "clip" + i)
    .append("rect")
      .attr("x", left).attr("y", y0)
      .attr("width", right - left).attr("height", panelH);

  var plot = g.append("g").attr("clip-path", "url(#clip" + i + ")");

  if (i === 1) {
    plot.append("path")
      .datum(tr)
      .attr("d", d3.area().x(d => x(d[0])).y0(d => y(d[1])).y1(d => y(d[2])))
      .attr("fill", "#000");
  } else {
    plot.append("path")
      .datum(tr)
      .attr("d", d3.line().x(d => x(d[0])).y(d => y(d[1])))
      .attr("fill", "none")
      .attr("stroke", "#000")
      .attr("stroke-width", strokeW[i])
      .attr("stroke-linejoin", "round");
  }

  // phase markers
  phaseTimes.forEach(function (pt, k) {
    g.append("line")
      .attr("x1", x(pt)).attr("x2", x(pt))
      .attr("y1", y0 + 9).attr("y2", y0 + panelH - 8)
      .attr("stroke", "#111").attr("stroke-width", 1);
    g.append("text")
      .attr("transform", "translate(" + (x(pt) + 5) + "," + (y0 + panelH - 23) + ") scale(0.56,1)")
      .attr("font-size", 23)
      .style("fill", "#333")
      .text(phaseNames[k]);
  });

  // y ticks, left side (pointing inward)
  var minor = stepValues(yDomains[i], yMinorStep[i]);
  var major = stepValues(yDomains[i], yMajorStep[i]);
  g.append("g").attr("transform", "translate(" + left + ",0)")
    .call(d3.axisRight(y).tickValues(minor.filter(v => major.indexOf(v) < 0)).tickSize(7).tickFormat(""));
  g.append("g").attr("transform", "translate(" + left + ",0)")
    .call(d3.axisRight(y).tickValues(major).tickSize(14).tickFormat(""));
  g.append("g").attr("transform", "translate(" + right + ",0)")
    .call(d3.axisLeft(y).tickValues(minor).tickSize(12).tickFormat(""));
  var lab = g.append("g").attr("transform", "translate(" + left + ",0)")
    .call(d3.axisLeft(y).tickValues(yLabels[i]).tickSize(0).tickPadding(11));
  lab.selectAll("text").attr("font-size", 21).attr("dy", "0.4em")
    .style("font-family", "'Open Sans', 'DejaVu Sans', sans-serif").style("fill", "#111");

  // x ticks on the top edge of every panel
  g.append("g").attr("transform", "translate(0," + y0 + ")")
    .call(d3.axisBottom(x).tickValues(xTicks.filter(v => v % 5 !== 0)).tickSize(8).tickFormat(""));
  g.append("g").attr("transform", "translate(0," + y0 + ")")
    .call(d3.axisBottom(x).tickValues(xTicks.filter(v => v % 5 === 0)).tickSize(17).tickFormat(""));

  g.selectAll(".domain").remove();
  g.selectAll(".tick line").attr("stroke", "#444").attr("stroke-width", 1.1);

  g.append("rect")
    .attr("x", left).attr("y", y0)
    .attr("width", right - left).attr("height", panelH)
    .attr("fill", "none").attr("stroke", frameColor).attr("stroke-width", 1.2);

  g.append("text")
    .attr("x", labelPos[i][0]).attr("y", y0 + labelPos[i][1])
    .attr("font-size", 30)
    .text(stationNames[i]);
});

// bottom time axis
var yB = top0 + 5 * panelH;
var bt = svg.append("g").attr("transform", "translate(0," + yB + ")")
  .call(d3.axisTop(x).tickValues(xTicks).tickSize(18).tickFormat(""));
var bl = svg.append("g").attr("transform", "translate(0," + yB + ")")
  .call(d3.axisBottom(x).tickValues(timeLabels).tickSize(0).tickPadding(10));
bl.selectAll("text").attr("font-size", 21)
  .style("font-family", "'Open Sans', 'DejaVu Sans', sans-serif").style("fill", "#111")
  .attr("dx", d => d === timeDomain[1] ? -5 : 0);
svg.selectAll(".domain").remove();
bt.selectAll(".tick line").attr("stroke", "#444").attr("stroke-width", 1.1);

// titles
svg.append("text")
  .attr("x", (left + right) / 2).attr("y", 35)
  .attr("text-anchor", "middle").attr("font-size", 25.5)
  .attr("letter-spacing", 0.3)
  .text(chartTitle);

svg.append("text")
  .attr("x", 529).attr("y", 953)
  .attr("text-anchor", "middle").attr("font-size", 24)
  .attr("letter-spacing", 1)
  .text("Time (x 10^2 sec)");

svg.append("text")
  .attr("transform", "translate(31," + ((top0 + yB) / 2 + 4) + ") rotate(-90)")
  .attr("text-anchor", "middle").attr("font-size", 24)
  .text("Counts (10^3)");

</script>
</body>
</html>
